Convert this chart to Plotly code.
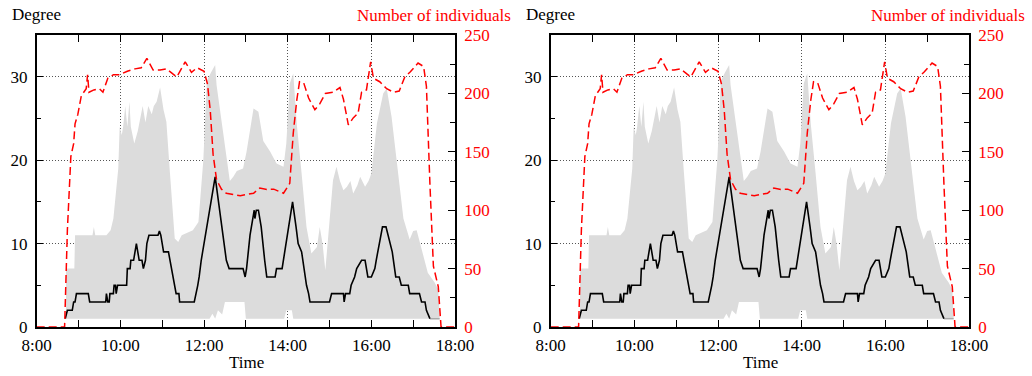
import plotly.graph_objects as go

# ---- data (times in minutes after 8:00) ----
median_t = [41, 44, 51, 53, 55, 57, 74, 76, 99, 100, 102, 104, 105, 110, 111, 113, 114, 116, 129, 130, 134,
            135, 139, 143, 147, 151, 153, 156, 158, 161, 174, 176, 178, 182, 189, 200, 204, 205, 226, 229,
            231, 233, 236, 256, 272, 276, 296, 299, 301, 306, 310, 312, 313, 315, 318, 320, 322, 327, 330,
            342, 344, 352, 354, 367, 372, 375, 380, 387, 390, 392, 420, 423, 440, 441, 443, 449, 451, 456,
            459, 466, 471, 475, 480, 485, 487, 496, 501, 507, 510, 515, 520, 523, 533, 535, 549, 552, 557,
            559, 564]
median_v = [1, 2, 2, 3, 3, 4, 4, 3, 3, 4, 3, 3, 4, 4, 5, 5, 4, 5, 5, 7, 7,
            8, 8, 10, 8, 8, 7, 8, 10, 11, 11, 11.5, 11, 9, 9, 4, 4, 3, 3, 4,
            5, 6, 8, 18, 8, 7, 7, 6, 7, 11, 13, 14, 13, 14, 14, 13, 12, 8, 6,
            6, 7, 7, 8, 15, 12, 10, 9, 5, 4, 3, 3, 4, 4, 3, 4, 4, 5, 6,
            7, 8, 8, 6, 6, 7, 8, 12, 12, 10, 9, 6, 6, 5, 5, 4, 4, 3, 3,
            2, 1]
tail_t = [564, 578]
tail_v = [1, 1]

max_t = [42, 54, 55, 80, 82, 84, 100, 106, 110, 114, 117, 119, 122, 124, 127, 130, 133, 135, 140, 145,
         149, 152, 156, 160, 165, 168, 172, 177, 182, 186, 191, 198, 203, 208, 224, 232, 239, 244, 250,
         256, 258, 268, 277, 282, 287, 296, 301, 311, 318, 325, 335, 344, 354, 358, 363, 368, 373, 380,
         387, 394, 402, 406, 410, 414, 421, 425, 430, 435, 440, 445, 450, 454, 460, 464, 471, 476, 480,
         488, 497, 502, 509, 516, 526, 535, 540, 545, 552, 561, 571, 576, 578]
max_v = [7, 7, 11, 11, 12, 11, 11, 11.6, 13, 16, 19, 24, 23, 24, 26.5, 24, 27, 24, 22, 23.5,
         25, 26.5, 24.5, 26.5, 25.5, 26.5, 27, 28.7, 26, 24.6, 18.6, 10.6, 10.2, 11, 11.6, 12.6, 20, 29.5, 30.5,
         31.4, 29, 22.7, 17.5, 18, 18.7, 19, 21, 26.2, 25.8, 22.3, 21, 19.6, 19.2, 22, 29.2, 30.4, 24.4, 18.4,
         12, 8.8, 9.6, 12, 10, 6.8, 13.6, 17.6, 19.2, 17.5, 16.4, 16.8, 17.5, 16, 17, 18, 16.8, 17.5, 18.4,
         24.4, 28, 28.6, 25.2, 20, 13, 10.5, 11.5, 11.6, 9.5, 6.5, 5.3, 4.5, 1]
min_t = [42, 248, 252, 256, 260, 266, 270, 298, 300, 355, 358, 366, 368, 578]
min_v = [1, 1, 1.6, 1, 2, 1.5, 3, 3, 1, 1, 2, 2, 1, 1]

count_t = [0, 40, 44, 49, 53, 55, 59, 64, 71, 73, 75, 82, 90, 95, 102, 110, 119, 130, 141, 150,
           158, 167, 177, 186, 201, 213, 222, 230, 240, 245, 249, 253, 258, 265, 272, 292, 311, 320,
           330, 340, 354, 363, 368, 373, 377, 383, 390, 399, 406, 414, 425, 435, 440, 447, 454, 461,
           466, 473, 479, 483, 492, 502, 512, 520, 528, 536, 547, 555, 559, 562, 564, 569, 576, 580, 600]
count_v = [0, 0, 83, 146, 157, 174, 182, 198, 204, 216, 201, 203, 204, 201, 213, 216, 216, 219, 221, 222,
           230, 220, 220, 221, 214, 227, 218, 222, 219, 208, 185, 148, 126, 118, 114.5, 112.4, 114.5, 119,
           117.7, 118, 114.5, 123, 166, 194, 210, 209, 196, 186, 191, 200, 201, 205, 195, 173, 179, 183,
           201, 203, 227, 213, 210, 204, 201, 202, 214, 218.5, 226, 223, 206, 143, 123, 52, 34.5, 0, 0]

x_tickvals = [8, 10, 12, 14, 16, 18]
x_ticktext = ["8:00", "10:00", "12:00", "14:00", "16:00", "18:00"]
deg_tickvals = [0, 10, 20, 30]
ind_tickvals = [0, 50, 100, 150, 200, 250]


def hrs(ms):
    return [8 + m / 60 for m in ms]


FONT = "Liberation Serif, Times New Roman, DejaVu Serif, serif"
fig = go.Figure()

panels = [("x", "y", "y2"), ("x2", "y3", "y4")]
for xa, ya, ya2 in panels:
    fig.add_trace(go.Scatter(
        x=hrs(max_t) + hrs(min_t)[::-1], y=max_v + min_v[::-1],
        fill="toself", fillcolor="#dcdcdc", line=dict(width=0, color="#dcdcdc"),
        mode="lines", xaxis=xa, yaxis=ya, hoverinfo="skip"))
    fig.add_trace(go.Scatter(
        x=hrs(tail_t), y=tail_v, mode="lines",
        line=dict(color="#aaaaaa", width=1.5), xaxis=xa, yaxis=ya))
    fig.add_trace(go.Scatter(
        x=hrs(median_t), y=median_v, mode="lines",
        line=dict(color="black", width=1.6), xaxis=xa, yaxis=ya))
    fig.add_trace(go.Scatter(
        x=hrs(count_t), y=count_v, mode="lines",
        line=dict(color="#ff0000", width=1.5, dash="8px,4px"), xaxis=xa, yaxis=ya2))

W, H = 1032, 376
left0, right0 = 36.7, 455.0
off = 514.0
top, bot = 35.0, 327.0
ydom = [1 - bot / H, 1 - top / H]
GRID_DASH = "1px,2px"


def xcfg(dom, anchor):
    return dict(domain=dom, anchor=anchor, range=[8, 18], automargin=False,
                tickmode="array", tickvals=x_tickvals, ticktext=x_ticktext,
                ticks="inside", ticklen=7, tickwidth=1, tickcolor="black",
                minor=dict(tickmode="linear", tick0=8, dtick=1, ticks="inside",
                           ticklen=5, tickcolor="black", showgrid=False),
                showgrid=True, gridcolor="#555555", griddash=GRID_DASH, gridwidth=1,
                showline=True, linecolor="black", linewidth=1.5, mirror="allticks",
                zeroline=False, ticklabelstandoff=2,
                tickfont=dict(family=FONT, size=17, color="black"))


def ycfg(anchor):
    return dict(domain=ydom, anchor=anchor, range=[0, 35], automargin=False,
                tickmode="array", tickvals=deg_tickvals,
                ticks="inside", ticklen=7, tickwidth=1, tickcolor="black",
                minor=dict(tickmode="linear", tick0=0, dtick=5, ticks="inside",
                           ticklen=5, tickcolor="black", showgrid=False),
                showgrid=True, gridcolor="#555555", griddash=GRID_DASH, gridwidth=1,
                showline=True, linecolor="black", linewidth=1.5, mirror=True,
                zeroline=False, ticklabelstandoff=4,
                tickfont=dict(family=FONT, size=17, color="black"))


def y2cfg(anchor, over):
    return dict(anchor=anchor, overlaying=over, side="right", range=[0, 250], automargin=False,
                tickmode="array", tickvals=ind_tickvals,
                ticks="inside", ticklen=7, tickwidth=1, tickcolor="black",
                minor=dict(tickmode="linear", tick0=0, dtick=25, ticks="inside",
                           ticklen=5, tickcolor="black", showgrid=False),
                showgrid=False, showline=True, linecolor="black", linewidth=1.5,
                zeroline=False, ticklabelstandoff=4,
                tickfont=dict(family=FONT, size=17, color="#ff0000"))


fig.update_layout(
    width=W, height=H, margin=dict(l=0, r=0, t=0, b=0, pad=0),
    paper_bgcolor="white", plot_bgcolor="white", showlegend=False,
    font=dict(family=FONT, size=17, color="black"),
    xaxis=xcfg([left0 / W, right0 / W], "y"),
    yaxis=ycfg("x"),
    yaxis2=y2cfg("x", "y"),
    xaxis2=xcfg([(left0 + off) / W, (right0 + off) / W], "y3"),
    yaxis3=ycfg("x2"),
    yaxis4=y2cfg("x2", "y3"),
)

for k in range(2):
    dx = k * off
    fig.add_annotation(x=(10 + dx) / W, y=1 - 14 / H, xref="paper", yref="paper",
                       text="Degree", showarrow=False, xanchor="left", yanchor="middle",
                       font=dict(family=FONT, size=17, color="black"))
    fig.add_annotation(x=(512.5 + dx) / W, y=1 - 15.5 / H, xref="paper", yref="paper",
                       text="Number of individuals", showarrow=False, xanchor="right",
                       yanchor="middle", font=dict(family=FONT, size=17, color="#ff0000"))
    fig.add_annotation(x=(246 + dx) / W, y=1 - 362 / H, xref="paper", yref="paper",
                       text="Time", showarrow=False, xanchor="center", yanchor="middle",
                       font=dict(family=FONT, size=17, color="black"))

fig.write_html("out.html")
